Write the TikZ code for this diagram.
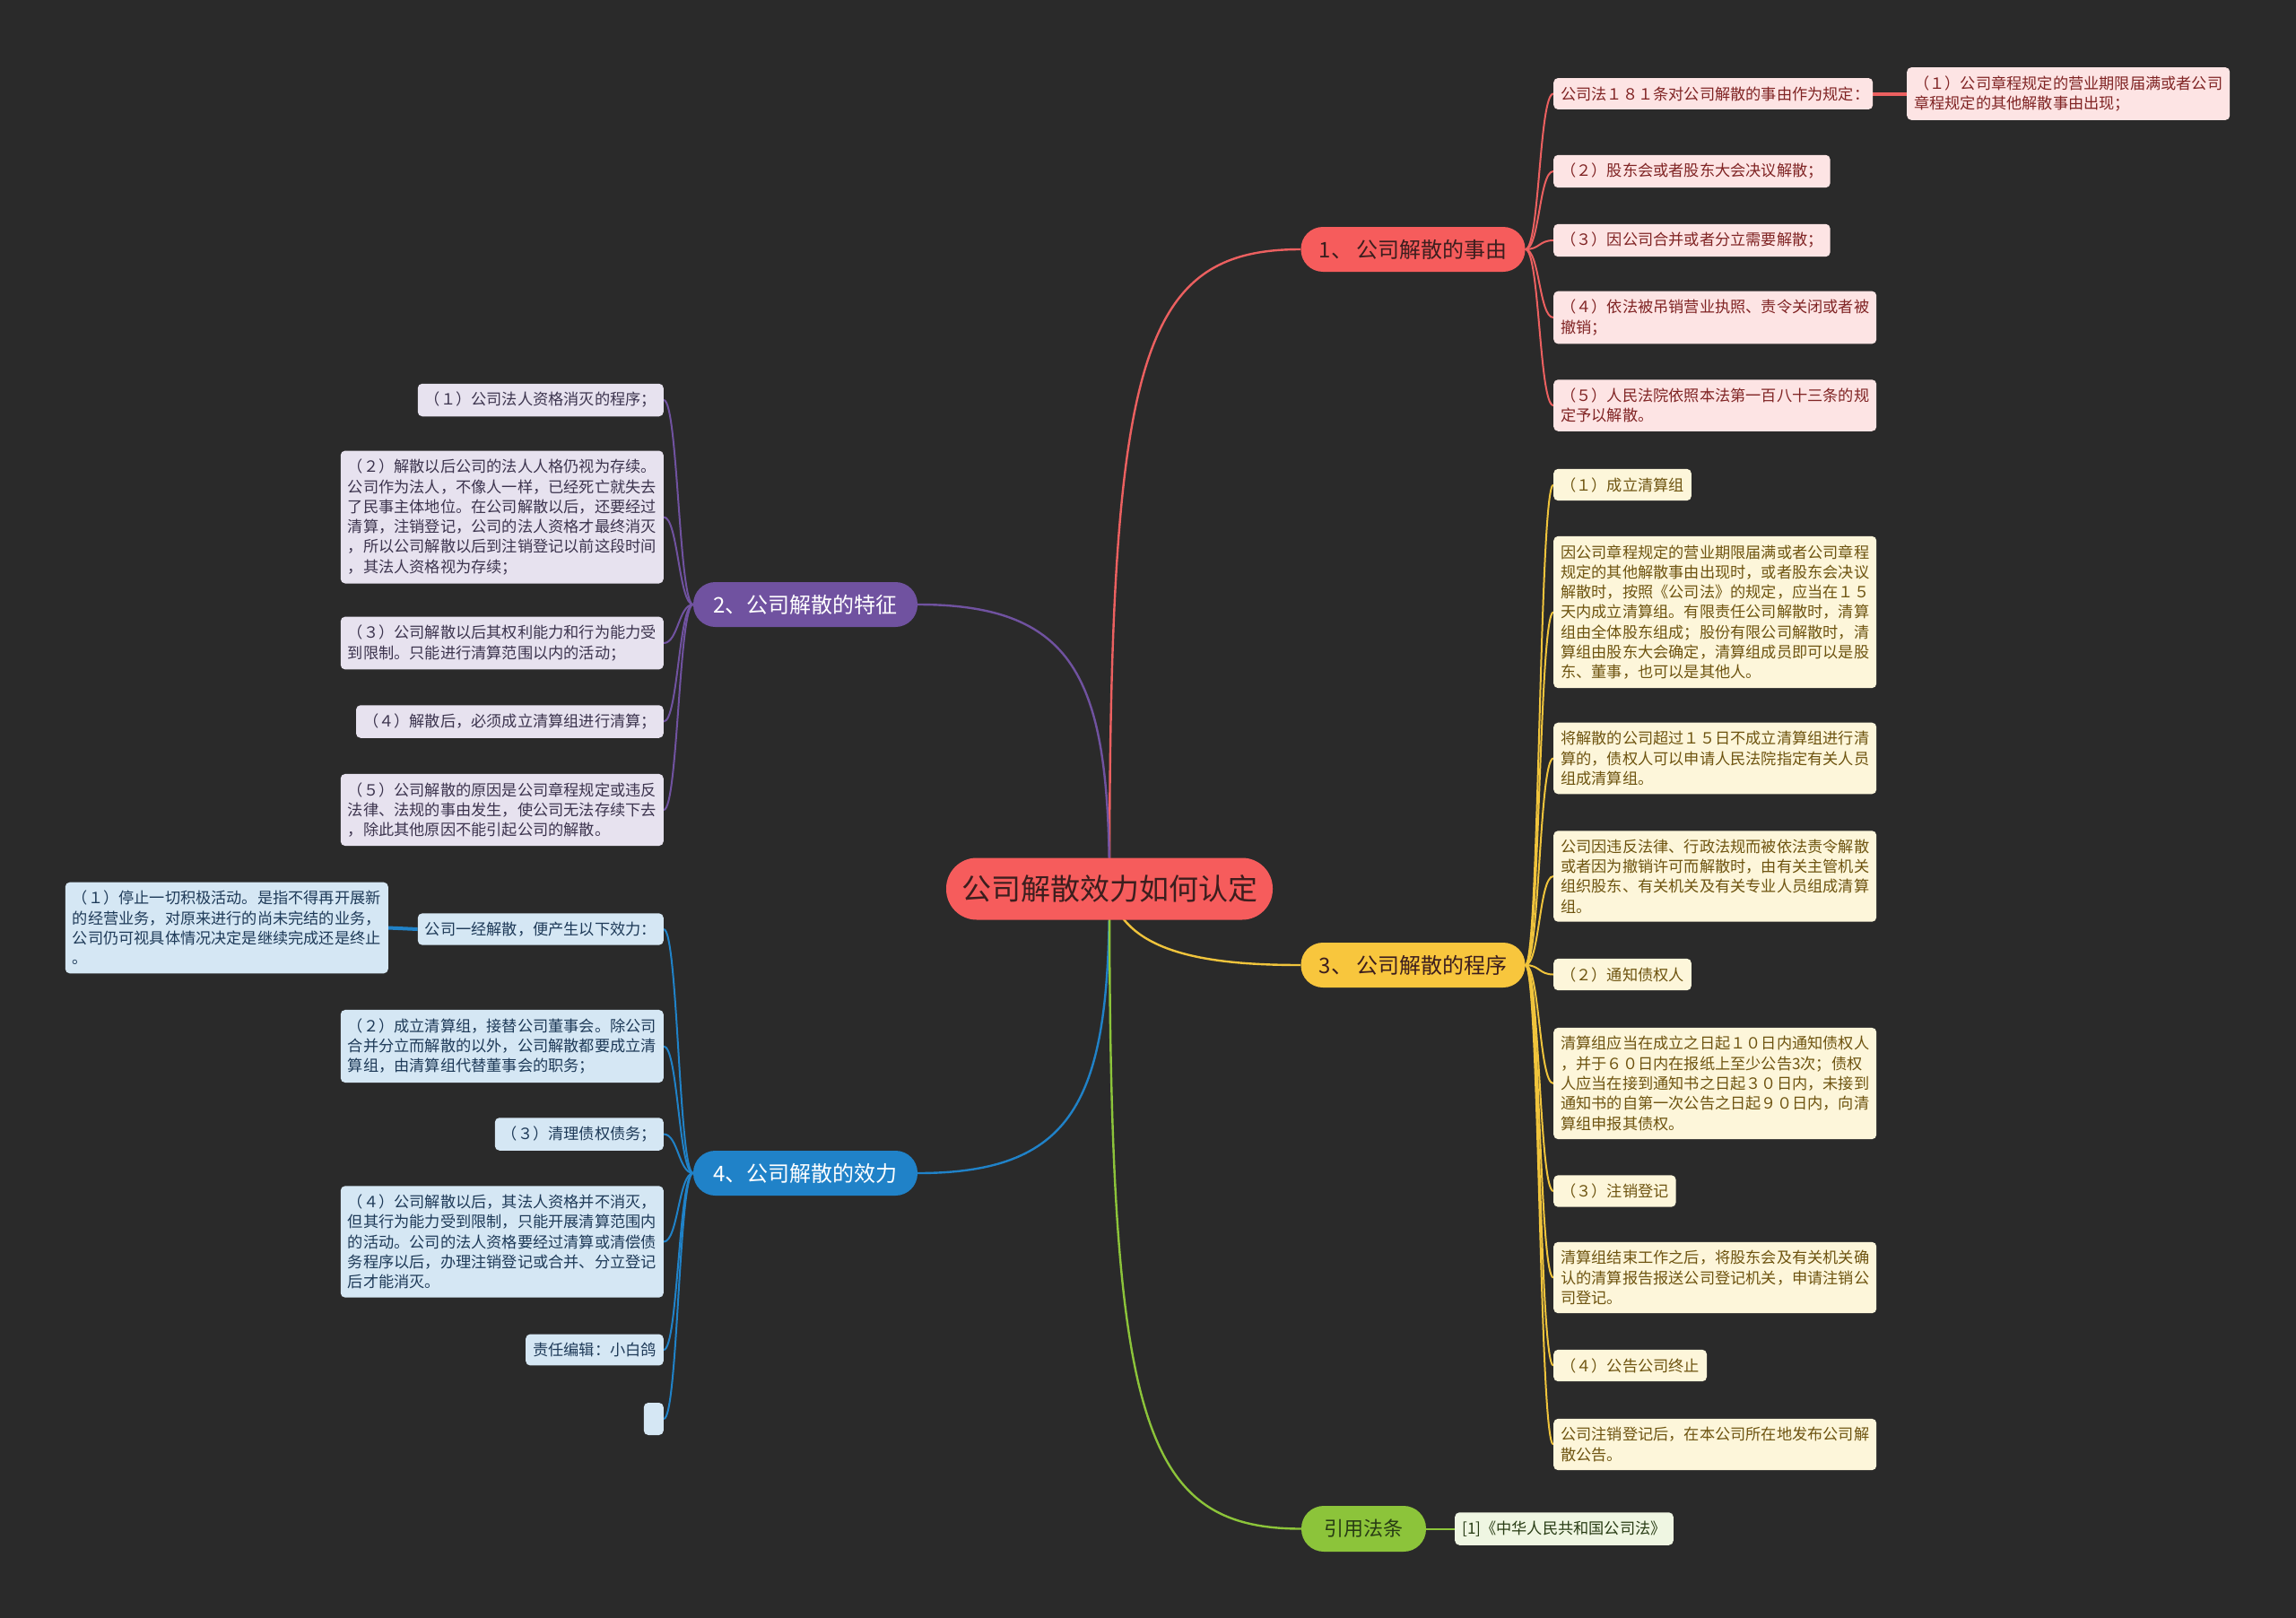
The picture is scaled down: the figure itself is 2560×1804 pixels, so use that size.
\documentclass[tikz,border=0pt]{standalone}
\usepackage{fontspec}
\setmainfont{Noto Sans CJK SC}
\pgfdeclarelayer{back}
\pgfdeclarelayer{bg}
\pgfsetlayers{back,bg,main}
\definecolor{bgc}{RGB}{42,42,42}
\definecolor{cRed}{RGB}{246,92,92}
\definecolor{cRedLine}{RGB}{236,96,96}
\definecolor{cRedFill}{RGB}{253,228,228}
\definecolor{cRedText}{RGB}{128,36,36}
\definecolor{cRootText}{RGB}{60,30,30}
\definecolor{cYel}{RGB}{248,198,61}
\definecolor{cYelLine}{RGB}{240,196,60}
\definecolor{cYelFill}{RGB}{253,246,218}
\definecolor{cYelText}{RGB}{110,84,16}
\definecolor{cPur}{RGB}{112,82,160}
\definecolor{cPurFill}{RGB}{231,226,239}
\definecolor{cPurText}{RGB}{60,52,78}
\definecolor{cBlu}{RGB}{32,130,200}
\definecolor{cBluFill}{RGB}{213,231,244}
\definecolor{cBluText}{RGB}{30,58,88}
\definecolor{cGrn}{RGB}{140,196,58}
\definecolor{cGrnFill}{RGB}{239,246,226}
\definecolor{cGrnText}{RGB}{40,60,20}
\begin{document}
\begin{tikzpicture}[x=1pt,y=-1pt,
  every node/.style={inner sep=0pt},
  leaf/.style={rounded corners=5pt, inner xsep=8pt, inner ysep=9.5pt, align=left, font=\fontsize{17.2}{22.3}\selectfont},
  wide/.style={text width=344pt},
  rleaf/.style={leaf, fill=cRedFill, text=cRedText, anchor=west},
  yleaf/.style={leaf, fill=cYelFill, text=cYelText, anchor=west},
  pleaf/.style={leaf, fill=cPurFill, text=cPurText, anchor=east},
  bleaf/.style={leaf, fill=cBluFill, text=cBluText, anchor=east},
  branch/.style={rounded corners=24.5pt, minimum height=50pt, minimum width=250pt, font=\fontsize{24}{30}\selectfont},
  mainln/.style={line width=2.4pt},
  subln/.style={line width=2pt},
  thickln/.style={line width=4pt}
]
\begin{pgfonlayer}{back}
\fill[bgc] (0,0) rectangle (2560,1804);
\end{pgfonlayer}
\useasboundingbox (0,0) rectangle (2560,1804);

% root
\node[fill=cRed, text=cRootText, rounded corners=34pt, minimum width=364pt, minimum height=69pt, font=\fontsize{33}{38}\selectfont] (root) at (1237,991) {公司解散效力如何认定};

% branches
\node[branch, fill=cRed, text=cRootText] (b1) at (1575.5,278) {1、\,公司解散的事由};
\node[branch, fill=cPur, text=white] (b2) at (898,674) {2、公司解散的特征};
\node[branch, fill=cYel, text=cRootText] (b3) at (1575.5,1076) {3、\,公司解散的程序};
\node[branch, fill=cBlu, text=white] (b4) at (898,1308) {4、公司解散的效力};
\node[branch, fill=cGrn, text=cGrnText, minimum width=139pt, minimum height=51pt, rounded corners=25pt, font=\fontsize{22}{26}\selectfont] (b5) at (1520.5,1704.5) {引用法条};

% red leaves
\node[rleaf, text width=340pt] (l1) at (1732,104.5) {公司法１８１条对公司解散的事由作为规定：};
\node[rleaf, wide] (l1c) at (2126,104.5) {（１）公司章程规定的营业期限届满或者公司\\章程规定的其他解散事由出现；};
\node[rleaf] (l2) at (1732,191) {（２）股东会或者股东大会决议解散；};
\node[rleaf] (l3) at (1732,268) {（３）因公司合并或者分立需要解散；};
\node[rleaf, wide] (l4) at (1732,354) {（４）依法被吊销营业执照、责令关闭或者被\\撤销；};
\node[rleaf, wide] (l5) at (1732,452) {（５）人民法院依照本法第一百八十三条的规\\定予以解散。};

% yellow leaves
\node[yleaf] (y1) at (1732,540.5) {（１）成立清算组};
\node[yleaf, wide] (y2) at (1732,682.5) {因公司章程规定的营业期限届满或者公司章程\\规定的其他解散事由出现时，或者股东会决议\\解散时，按照《公司法》的规定，应当在１５\\天内成立清算组。有限责任公司解散时，清算\\组由全体股东组成；股份有限公司解散时，清\\算组由股东大会确定，清算组成员即可以是股\\东、董事，也可以是其他人。};
\node[yleaf, wide] (y3) at (1732,845.5) {将解散的公司超过１５日不成立清算组进行清\\算的，债权人可以申请人民法院指定有关人员\\组成清算组。};
\node[yleaf, wide] (y4) at (1732,977) {公司因违反法律、行政法规而被依法责令解散\\或者因为撤销许可而解散时，由有关主管机关\\组织股东、有关机关及有关专业人员组成清算\\组。};
\node[yleaf] (y5) at (1732,1086.5) {（２）通知债权人};
\node[yleaf, wide] (y6) at (1732,1208) {清算组应当在成立之日起１０日内通知债权人\\，并于６０日内在报纸上至少公告3次；债权\\人应当在接到通知书之日起３０日内，未接到\\通知书的自第一次公告之日起９０日内，向清\\算组申报其债权。};
\node[yleaf] (y7) at (1732,1328) {（３）注销登记};
\node[yleaf, wide] (y8) at (1732,1424.5) {清算组结束工作之后，将股东会及有关机关确\\认的清算报告报送公司登记机关，申请注销公\\司登记。};
\node[yleaf] (y9) at (1732,1522.5) {（４）公告公司终止};
\node[yleaf, wide] (y10) at (1732,1610.5) {公司注销登记后，在本公司所在地发布公司解\\散公告。};

% purple leaves
\node[pleaf] (p1) at (740,446) {（１）公司法人资格消灭的程序；};
\node[pleaf, wide] (p2) at (740,576.5) {（２）解散以后公司的法人人格仍视为存续。\\公司作为法人，不像人一样，已经死亡就失去\\了民事主体地位。在公司解散以后，还要经过\\清算，注销登记，公司的法人资格才最终消灭\\，所以公司解散以后到注销登记以前这段时间\\，其法人资格视为存续；};
\node[pleaf, wide] (p3) at (740,717) {（３）公司解散以后其权利能力和行为能力受\\到限制。只能进行清算范围以内的活动；};
\node[pleaf] (p4) at (740,804.5) {（４）解散后，必须成立清算组进行清算；};
\node[pleaf, wide] (p5) at (740,903) {（５）公司解散的原因是公司章程规定或违反\\法律、法规的事由发生，使公司无法存续下去\\，除此其他原因不能引起公司的解散。};

% blue leaves
\node[bleaf] (q1) at (740,1036) {公司一经解散，便产生以下效力：};
\node[bleaf, wide] (q1c) at (433,1034.5) {（１）停止一切积极活动。是指不得再开展新\\的经营业务，对原来进行的尚未完结的业务，\\公司仍可视具体情况决定是继续完成还是终止\\。};
\node[bleaf, wide] (q2) at (740,1166.5) {（２）成立清算组，接替公司董事会。除公司\\合并分立而解散的以外，公司解散都要成立清\\算组，由清算组代替董事会的职务；};
\node[bleaf] (q3) at (740,1264.5) {（３）清理债权债务；};
\node[bleaf, wide] (q4) at (740,1384.5) {（４）公司解散以后，其法人资格并不消灭，\\但其行为能力受到限制，只能开展清算范围内\\的活动。公司的法人资格要经过清算或清偿债\\务程序以后，办理注销登记或合并、分立登记\\后才能消灭。};
\node[bleaf] (q5) at (740,1505) {责任编辑：小白鸽};
\node[bleaf, inner xsep=0pt, inner ysep=0pt, minimum width=22pt, minimum height=36pt] (q6) at (740,1582) {};

% green leaf
\node[leaf, fill=cGrnFill, text=cGrnText, anchor=west] (g1) at (1622,1704.5) {[1]《中华人民共和国公司法》};

\begin{pgfonlayer}{bg}
\draw[mainln, cRedLine] (root.center) .. controls +(0,-590) and +(-180,0) .. (b1.west);
\draw[mainln, cPur] (root.center) .. controls +(0,-230) and +(180,0) .. (b2.east);
\draw[mainln, cYelLine] (root.center) .. controls +(15,70) and +(-110,0) .. (b3.west);
\draw[mainln, cBlu] (root.center) .. controls +(0,230) and +(180,0) .. (b4.east);
\draw[mainln, cGrn] (root.center) .. controls +(0,590) and +(-180,0) .. (b5.west);
\foreach \n in {l1,l2,l3,l4,l5}
  \draw[subln, cRedLine] (b1.east) .. controls +(16,0) and +(-16,0) .. (\n.west);
\foreach \n in {y1,y2,y3,y4,y5,y6,y7,y8,y9,y10}
  \draw[subln, cYelLine] (b3.east) .. controls +(16,0) and +(-16,0) .. (\n.west);
\foreach \n in {p1,p2,p3,p4,p5}
  \draw[subln, cPur] (b2.west) .. controls +(-16,0) and +(16,0) .. (\n.east);
\foreach \n in {q1,q2,q3,q4,q5,q6}
  \draw[subln, cBlu] (b4.west) .. controls +(-16,0) and +(16,0) .. (\n.east);
\draw[thickln, cRedLine] (l1.east) -- (l1c.west);
\draw[thickln, cBlu] (q1.west) -- (q1c.east);
\draw[subln, cGrn] (b5.east) -- (g1.west);
\end{pgfonlayer}
\end{tikzpicture}
\end{document}
